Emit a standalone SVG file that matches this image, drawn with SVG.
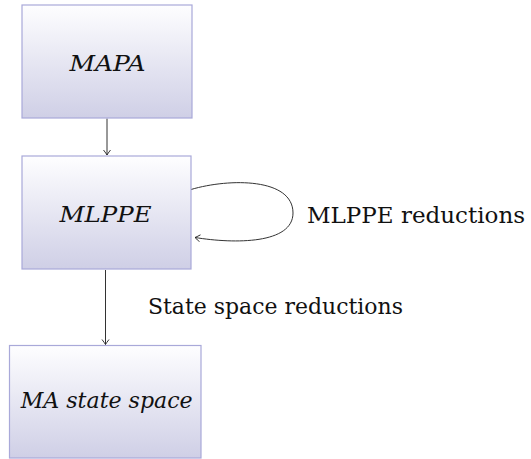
<svg xmlns="http://www.w3.org/2000/svg" width="531" height="459" viewBox="0 0 531 459">
<style>
.box{stroke:#a9a9d9;stroke-width:1.2;fill:url(#g)}
.lbl{font-family:'DejaVu Serif',serif;font-style:italic;font-size:22px;fill:#111;text-anchor:middle}
.txt{font-family:'DejaVu Serif',serif;font-size:22px;fill:#111}
.edge{stroke:#333;stroke-width:1;fill:none}
</style>
<defs>
<linearGradient id="g" x1="0" y1="0" x2="0" y2="1">
<stop offset="0" stop-color="#fefeff"/>
<stop offset="1" stop-color="#cfcfe6"/>
</linearGradient>
<marker id="ah" viewBox="-6 -5 8 10" markerWidth="8" markerHeight="10" refX="0" refY="0" orient="auto" markerUnits="userSpaceOnUse">
<path d="M-5,-3.5 Q-1.5,-0.8 0,0 Q-1.5,0.8 -5,3.5" fill="none" stroke="#222" stroke-width="0.9"/>
</marker>
</defs>
<g id="connectors">
<path class="edge" d="M107,118.5 V155" marker-end="url(#ah)"/>
<path class="edge" d="M105.5,270 V344.5" marker-end="url(#ah)"/>
<path class="edge" d="M191,189.5 C230,178 293,178 293,213 C293,244 235,244 195,237.5" marker-end="url(#ah)"/>
<text class="txt" x="307" y="223" textLength="218" lengthAdjust="spacingAndGlyphs">MLPPE reductions</text>
<text class="txt" x="148" y="314" textLength="255" lengthAdjust="spacingAndGlyphs">State space reductions</text>
</g>
<g id="MAPA">
<rect class="box" x="22" y="5" width="170" height="113"/>
<text class="lbl" x="107.5" y="71" textLength="76" lengthAdjust="spacingAndGlyphs">MAPA</text>
</g>
<g id="MLPPE">
<rect class="box" x="22" y="156" width="169" height="113"/>
<text class="lbl" x="105.5" y="222" textLength="92" lengthAdjust="spacingAndGlyphs">MLPPE</text>
</g>
<g id="MAstatespace">
<rect class="box" x="9.5" y="345.5" width="191.5" height="112.5"/>
<text class="lbl" x="106.7" y="408" textLength="172" lengthAdjust="spacingAndGlyphs">MA state space</text>
</g>
</svg>
